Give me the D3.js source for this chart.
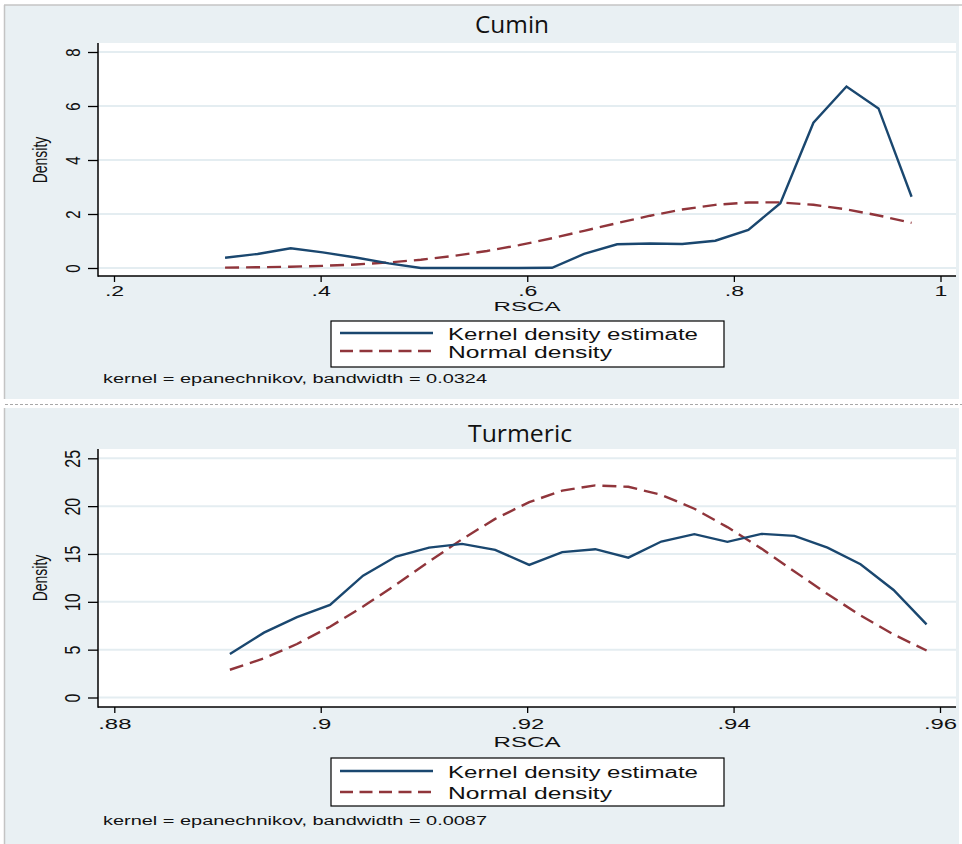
<!DOCTYPE html>
<html>
<head>
<meta charset="utf-8">
<script src="https://cdn.jsdelivr.net/npm/d3@7"></script>
<style>
  html, body { margin: 0; padding: 0; background: #ffffff; }
  svg { display: block; }
</style>
</head>
<body>
<svg id="chart" width="962" height="844"></svg>
<script>
// ---------------- DATA ----------------
const cuminX = [0.3075, 0.339, 0.371, 0.402, 0.434, 0.466, 0.497, 0.529, 0.561, 0.592, 0.624,
                0.655, 0.687, 0.719, 0.750, 0.782, 0.814, 0.845, 0.877, 0.909, 0.940, 0.972];
const cuminKernel = [0.38, 0.52, 0.73, 0.58, 0.39, 0.17, 0.0, 0.0, 0.0, 0.0, 0.01,
                     0.52, 0.88, 0.91, 0.89, 1.01, 1.41, 2.40, 5.38, 6.72, 5.91, 2.64];
const cuminNormal = [0.015, 0.027, 0.047, 0.079, 0.130, 0.205, 0.306, 0.448, 0.631, 0.845, 1.103,
                     1.376, 1.664, 1.937, 2.165, 2.337, 2.428, 2.430, 2.341, 2.171, 1.946, 1.673];
const cuminYTicks = [0, 2, 4, 6, 8];
const cuminXTicks = [0.2, 0.4, 0.6, 0.8, 1];
const cuminXTickLabels = [".2", ".4", ".6", ".8", "1"];

const turmericX = [0.8912, 0.8945, 0.8977, 0.9009, 0.9041, 0.9073, 0.9105, 0.9137, 0.9169, 0.9202, 0.9234,
                   0.9266, 0.9298, 0.9330, 0.9362, 0.9394, 0.9427, 0.9459, 0.9491, 0.9523, 0.9555, 0.9587];
const turmericKernel = [4.55, 6.78, 8.39, 9.68, 12.74, 14.73, 15.67, 16.06, 15.43, 13.86, 15.19,
                        15.50, 14.62, 16.30, 17.07, 16.27, 17.10, 16.89, 15.67, 13.93, 11.24, 7.65];
const turmericNormal = [2.90, 4.09, 5.59, 7.40, 9.50, 11.80, 14.21, 16.55, 18.67, 20.42, 21.62,
                        22.17, 22.02, 21.18, 19.73, 17.81, 15.56, 13.17, 10.81, 8.58, 6.59, 4.91];
const turmericYTicks = [0, 5, 10, 15, 20, 25];
const turmericXTicks = [0.88, 0.9, 0.92, 0.94, 0.96];
const turmericXTickLabels = [".88", ".9", ".92", ".94", ".96"];

const legendLabels = ["Kernel density estimate", "Normal density"];
const xAxisTitle = "RSCA";
const yAxisTitle = "Density";

// ---------------- STYLE / LAYOUT ----------------
const BLUE = "#1a476f", RED = "#90353b";
const BG = "#e9f0f3", GRID = "#e4edf1";
const SANS = "'Liberation Sans', Arial, sans-serif";

const panels = [
  { title: "Cumin", xs: cuminX, kd: cuminKernel, nd: cuminNormal,
    xDomain: [0.2, 1], xRange: [114, 940.5], yDomain: [0, 8], yRange: [268, 52],
    yTicks: cuminYTicks, xTicks: cuminXTicks, xLabels: cuminXTickLabels, note: "kernel = epanechnikov, bandwidth = 0.0324",
    bg: [5, 5, 954, 394], plot: [98, 43, 956, 276], titleX: 512, titleY: 33, titleW: 74,
    tickLabY: 295.5, tickFont: 14, yTickFont: 15, rscaY: 311, rscaFont: 13.5, legY: 321, legH: 46, row1: 333, row2: 351, noteY: 383, densY: 160 },
  { title: "Turmeric", xs: turmericX, kd: turmericKernel, nd: turmericNormal,
    xDomain: [0.88, 0.96], xRange: [114.3, 940], yDomain: [0, 25], yRange: [697.5, 458.3],
    yTicks: turmericYTicks, xTicks: turmericXTicks, xLabels: turmericXTickLabels, note: "kernel = epanechnikov, bandwidth = 0.0087",
    bg: [5, 408, 954, 436], plot: [98, 449, 956, 707], titleX: 520, titleY: 442, titleW: 104,
    tickLabY: 728.5, tickFont: 14.5, yTickFont: 16, rscaY: 746.5, rscaFont: 14, legY: 758, legH: 48, row1: 771, row2: 792, noteY: 825, densY: 578 }
];

const svg = d3.select("#chart");

// separator between panels
svg.append("line").attr("x1", 5).attr("x2", 962).attr("y1", 404.5).attr("y2", 404.5)
  .attr("stroke", "#a8a8a8").attr("stroke-width", 1).attr("stroke-dasharray", "3,2");

panels.forEach(p => {
  const g = svg.append("g");
  const [bx, by, bw, bh] = p.bg;
  g.append("rect").attr("x", bx).attr("y", by).attr("width", bw).attr("height", bh).attr("fill", BG);
  // left border
  g.append("line").attr("x1", 4.5).attr("x2", 4.5).attr("y1", by).attr("y2", by + bh)
    .attr("stroke", "#c4c4c4").attr("stroke-width", 1.5);
  if (by < 10) {
    g.append("line").attr("x1", 4).attr("x2", 962).attr("y1", 5).attr("y2", 5)
      .attr("stroke", "#c4c4c4").attr("stroke-width", 1.5);
  }

  const [px0, py0, px1, py1] = p.plot;
  g.append("rect").attr("x", px0).attr("y", py0).attr("width", px1 - px0).attr("height", py1 - py0).attr("fill", "#ffffff");

  const x = d3.scaleLinear().domain(p.xDomain).range(p.xRange);
  const y = d3.scaleLinear().domain(p.yDomain).range(p.yRange);

  // gridlines
  g.append("g").selectAll("line").data(p.yTicks).join("line")
    .attr("x1", px0).attr("x2", px1).attr("y1", d => y(d)).attr("y2", d => y(d))
    .attr("stroke", GRID).attr("stroke-width", 2);

  // title
  g.append("text").attr("x", p.titleX).attr("y", p.titleY).attr("text-anchor", "middle")
    .attr("font-family", "'Open Sans', sans-serif").attr("font-size", 23).attr("fill", "#111")
    .attr("textLength", p.titleW).attr("lengthAdjust", "spacingAndGlyphs").text(p.title);

  // y axis
  const yAxis = d3.axisLeft(y).tickValues(p.yTicks).tickSize(10).tickSizeOuter(0).tickFormat(d3.format("d"));
  const yg = g.append("g").attr("transform", `translate(${px0},0)`).call(yAxis);
  yg.select(".domain").remove();
  yg.selectAll(".tick line").attr("stroke", "#000").attr("stroke-width", 1.3);
  yg.selectAll(".tick text")
    .attr("x", null).attr("y", null).attr("dy", null)
    .attr("text-anchor", "middle")
    .attr("font-family", SANS).attr("font-size", p.yTickFont).attr("fill", "#111")
    .attr("transform", "translate(-18,0) scale(1.4,1) rotate(-90)");

  // x axis
  const xAxis = d3.axisBottom(x).tickValues(p.xTicks).tickSize(6).tickSizeOuter(0)
    .tickFormat((d, i) => p.xLabels[i]);
  const xg = g.append("g").attr("transform", `translate(0,${py1})`).call(xAxis);
  xg.select(".domain").remove();
  xg.selectAll(".tick line").attr("stroke", "#000").attr("stroke-width", 1.3);
  xg.selectAll(".tick text")
    .attr("y", null).attr("dy", null).attr("x", null)
    .attr("text-anchor", "middle")
    .attr("font-family", SANS).attr("font-size", p.tickFont).attr("fill", "#111")
    .attr("transform", `translate(0,${p.tickLabY - py1}) scale(1.65,1)`);

  // axis lines
  g.append("line").attr("x1", px0).attr("x2", px0).attr("y1", py0).attr("y2", py1 + 0.7)
    .attr("stroke", "#000").attr("stroke-width", 1.5);
  g.append("line").attr("x1", px0).attr("x2", px1).attr("y1", py1).attr("y2", py1)
    .attr("stroke", "#000").attr("stroke-width", 1.5);

  // axis titles
  g.append("text").attr("transform", `translate(47,${p.densY}) scale(1.45,1) rotate(-90)`)
    .attr("text-anchor", "middle").attr("font-family", SANS).attr("font-size", 14).attr("fill", "#111")
    .text(yAxisTitle);
  g.append("text").attr("x", 527).attr("y", p.rscaY).attr("text-anchor", "middle")
    .attr("font-family", SANS).attr("font-size", p.rscaFont).attr("fill", "#111")
    .attr("textLength", 67).attr("lengthAdjust", "spacingAndGlyphs").text(xAxisTitle);

  // curves
  const line = d3.line().x(d => x(d[0])).y(d => y(d[1]));
  g.append("path").datum(p.xs.map((v, i) => [v, p.nd[i]])).attr("d", line)
    .attr("fill", "none").attr("stroke", RED).attr("stroke-width", 2.4).attr("stroke-dasharray", "14,7");
  g.append("path").datum(p.xs.map((v, i) => [v, p.kd[i]])).attr("d", line)
    .attr("fill", "none").attr("stroke", BLUE).attr("stroke-width", 2.4).attr("stroke-linejoin", "miter");

  // legend
  const lg = g.append("g");
  lg.append("rect").attr("x", 331).attr("y", p.legY).attr("width", 393).attr("height", p.legH)
    .attr("fill", "#fff").attr("stroke", "#000").attr("stroke-width", 1.2);
  lg.append("line").attr("x1", 340).attr("x2", 433).attr("y1", p.row1).attr("y2", p.row1)
    .attr("stroke", BLUE).attr("stroke-width", 2.4);
  lg.append("line").attr("x1", 340).attr("x2", 433).attr("y1", p.row2).attr("y2", p.row2)
    .attr("stroke", RED).attr("stroke-width", 2.4).attr("stroke-dasharray", "13,6.5");
  lg.append("text").attr("x", 448).attr("y", p.row1 + 6.5).attr("font-family", SANS).attr("font-size", 16)
    .attr("fill", "#111").attr("textLength", 250).attr("lengthAdjust", "spacingAndGlyphs").text(legendLabels[0]);
  lg.append("text").attr("x", 448).attr("y", p.row2 + 6.5).attr("font-family", SANS).attr("font-size", 16)
    .attr("fill", "#111").attr("textLength", 164).attr("lengthAdjust", "spacingAndGlyphs").text(legendLabels[1]);

  // note
  g.append("text").attr("x", 103).attr("y", p.noteY).attr("font-family", SANS).attr("font-size", 12)
    .attr("fill", "#111").attr("textLength", 384).attr("lengthAdjust", "spacingAndGlyphs").text(p.note);
});
</script>
</body>
</html>
